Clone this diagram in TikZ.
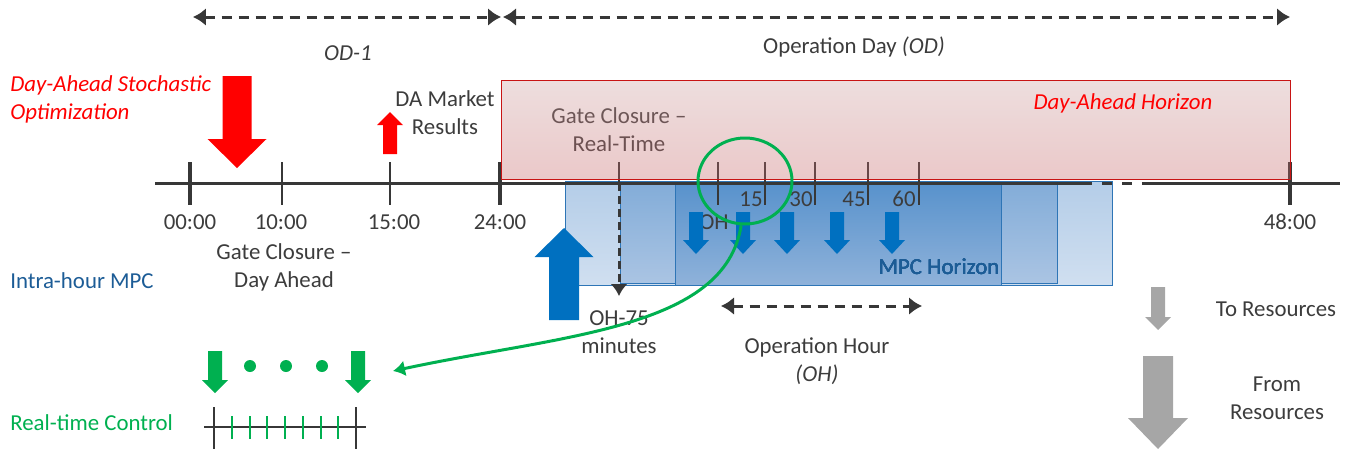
\documentclass[tikz,border=0pt]{standalone}
\usepackage{fontspec}
\setmainfont{Carlito}
\usetikzlibrary{arrows.meta}
\usetikzlibrary{shapes.geometric}
\tikzset{>=latex}
\definecolor{axisgray}{RGB}{55,55,55}
\definecolor{textgray}{RGB}{60,60,60}
\definecolor{dared}{RGB}{255,0,0}
\definecolor{daborder}{RGB}{200,20,20}
\definecolor{mpcblue}{RGB}{0,112,192}
\definecolor{mpctext}{RGB}{28,92,150}
\definecolor{rtgreen}{RGB}{0,176,80}
\definecolor{resgray}{RGB}{166,166,166}
\definecolor{boxline}{RGB}{46,117,182}
\tikzstyle{txt}=[text=textgray,font=\fontsize{13}{16}\selectfont,align=center,inner sep=0pt]
\tikzstyle{txtit}=[txt,font=\fontsize{13}{16}\selectfont\itshape]
\tikzstyle{axisline}=[draw=axisgray,line width=0.06cm]
\tikzstyle{bigtick}=[draw=axisgray,line width=0.08cm]
\tikzstyle{smalltick}=[draw=axisgray,line width=0.045cm]
\tikzstyle{spanarrow}=[draw=axisgray,line width=0.06cm,dash pattern=on 0.2cm off 0.14cm,
  {Latex[length=0.26cm,width=0.36cm]}-{Latex[length=0.26cm,width=0.36cm]}]
\tikzstyle{gateline}=[draw=axisgray,line width=0.06cm,dash pattern=on 0.16cm off 0.1cm,
  -{Latex[length=0.24cm,width=0.34cm]}]
\tikzstyle{greenlink}=[draw=rtgreen,line width=0.06cm,-{Latex[length=0.24cm,width=0.32cm]}]
\tikzstyle{rttick}=[draw=rtgreen,line width=0.04cm]
\tikzstyle{mpcbox}=[draw=boxline,line width=0.02cm]

% block arrow: colour, x, shaft end, head base, tip, shaft half width, head half width
\newcommand{\blockarrow}[7]{%
  \fill[#1] ({#2-#6},#3) -- ({#2+#6},#3) -- ({#2+#6},#4) -- ({#2+#7},#4) --
  (#2,#5) -- ({#2-#7},#4) -- ({#2-#6},#4) -- cycle;}

\begin{document}
\begin{tikzpicture}[x=0.02cm,y=-0.02cm]
  \useasboundingbox (0,0) rectangle (1353,451);

  % MPC horizons
  \shade[mpcbox,top color={rgb,255:red,180;green,205;blue,232},bottom color={rgb,255:red,208;green,223;blue,240}] (565,181) rectangle (1112,285);
  \shade[mpcbox,top color={rgb,255:red,130;green,172;blue,216},bottom color={rgb,255:red,170;green,196;blue,227}] (620,181) rectangle (1057,283);
  \shade[mpcbox,top color={rgb,255:red,88;green,146;blue,204},bottom color={rgb,255:red,143;green,178;blue,218}] (675,183) rectangle (1001,285);

  % time axis
  \draw[axisline] (155,183) -- (1082,183);
  \draw[axisline,dash pattern=on 0.2cm off 0.2cm] (1082,183) -- (1152,183);
  \draw[axisline] (1152,183) -- (1340,183);

  \draw[bigtick] (190,162) -- (190,205);
  \draw[smalltick] (282,162) -- (282,205);
  \draw[smalltick] (390,162) -- (390,205);
  \draw[bigtick] (500,162) -- (500,205);
  \draw[bigtick] (1290,162) -- (1290,205);
  \foreach \x/\t/\n in {190/00:00/t00,281/10:00/t10,394/15:00/t15,500/24:00/t24,1290/48:00/t48}
    \node[txt] (\n) at (\x,222) {\t};

  % operation hour, 15 min steps
  \foreach \x in {718,765,815,868,919}
    \draw[smalltick] (\x,162) -- (\x,205);
  \foreach \x/\m in {751/15,801/30,854/45,904/60}
    \node[txt] (m\m) at (\x,199) {\m};
  \node[txt] (oh) at (714,222) {OH};

  \node[txt] (gatert) at (619,130) {Gate Closure --\\Real-Time};
  \coordinate (gatetop) at (619,162);
  \coordinate (gateaxis) at (619,183);
  \coordinate (gatebot) at (619,296);
  \draw[smalltick] (gatetop) -- (gateaxis);

  % day-ahead horizon
  \shade[top color={rgb,255:red,205;green,160;blue,160},bottom color={rgb,255:red,196;green,98;blue,100},fill opacity=0.35] (501,80) rectangle (1290,179);
  \draw[daborder,line width=0.02cm] (501,80) rectangle (1290,179);
  \node[txtit,text=dared] (dahor) at (1123,103) {Day-Ahead Horizon};

  % spans
  \coordinate (odl) at (193,17);
  \coordinate (odm) at (501,17);
  \coordinate (odn) at (503,17);
  \coordinate (odr) at (1290,17);
  \draw[spanarrow] (odl) -- (odm);
  \draw[spanarrow] (odn) -- (odr);
  \node[txtit] (od1) at (348,53) {OD-1};
  \node[txt] (od) at (854,47) {Operation Day \textit{(OD)}};

  \coordinate (ohl) at (721,306);
  \coordinate (ohr) at (922,306);
  \draw[spanarrow] (ohl) -- (ohr);
  \node[txt] (ohtxt) at (817,361) {Operation Hour\\\textit{(OH)}};

  % day-ahead stage
  \node[txtit,text=dared,align=left,anchor=west] (daopt) at (10,99) {Day-Ahead Stochastic\\Optimization};
  \blockarrow{dared}{237}{76}{139}{168}{14.5}{29.5}
  \blockarrow{dared}{390}{154}{125}{112}{7}{13}
  \node[txt] (damkt) at (445,113) {DA Market\\Results};
  \node[txt] (gateda) at (284,267) {Gate Closure --\\Day Ahead};

  % intra-hour stage
  \node[txt,text=mpctext,anchor=west] (mpc) at (10,281) {Intra-hour MPC};
  \draw[gateline] (gateaxis) -- (gatebot);
  \blockarrow{mpcblue}{564}{320}{257}{228}{15}{29.5}
  \node[txt] (oh75) at (619,332) {OH-75\\minutes};
  \foreach \x in {696,743,787,837,892}
    \blockarrow{mpcblue}{\x}{212}{240}{254}{7}{13}
  \node[txt,text=mpctext] (mpchor) at (939,267) {MPC Horizon};

  % real-time stage
  \node[draw=rtgreen,line width=0.06cm,ellipse,minimum width=1.88cm,minimum height=1.72cm,inner sep=0pt] (zoomring) at (745,181) {};
  \coordinate (rtin) at (393,371);
  \draw[greenlink] (zoomring.-95) .. controls (725,330) and (560,335) .. (rtin);

  \blockarrow{rtgreen}{215}{351}{380}{393}{7}{13}
  \blockarrow{rtgreen}{358}{351}{380}{393}{7}{13}
  \foreach \x in {250,286,322}
    \fill[rtgreen] (\x,366) circle (0.12cm);

  \draw[axisline,line width=0.05cm] (204,427) -- (366,427);
  \draw[smalltick] (214,407) -- (214,449);
  \draw[smalltick] (356,407) -- (356,449);
  \foreach \i in {1,...,7}
    \draw[rttick] ({214+\i*17.75},416) -- ({214+\i*17.75},439);
  \node[txt,text=rtgreen,anchor=west] (rtc) at (10,423) {Real-time Control};

  % resources
  \blockarrow{resgray}{1158}{287}{317}{330}{7}{13}
  \blockarrow{resgray}{1158}{356}{418}{449}{15}{30}
  \node[txt] (tores) at (1276,309) {To Resources};
  \node[txt] (fromres) at (1277,398) {From\\Resources};
\end{tikzpicture}
\end{document}
